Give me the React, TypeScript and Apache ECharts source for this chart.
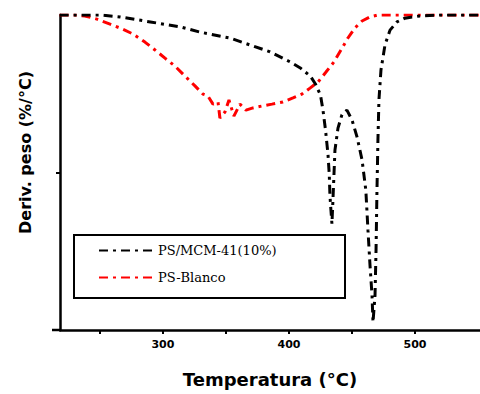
import React, { useEffect, useRef } from "react";
import * as echarts from "echarts";

// Temperature (°C) and derivative weight (%/°C, relative)
const blackT = [218, 250, 266, 290, 314, 329, 353, 369, 385, 401, 409, 417, 421, 425, 427, 429, 431, 432, 432.5, 433.3, 434.1, 434.9, 436.5, 438.9, 442, 446, 450, 454, 458, 461, 462.7, 464.3, 465.9, 466.7, 468.3, 469.1, 469.8, 470.6, 471.4, 473, 476.2, 480.2, 485.7, 492, 504, 520, 552];
const blackV = [0, 0, -0.6, -2.2, -3.8, -5.4, -7.3, -9.5, -11.7, -14.9, -16.8, -19.4, -21.9, -25.4, -30.2, -36.5, -44.4, -50.8, -57.1, -61.9, -66.3, -58.7, -42.9, -35.9, -31.7, -30.2, -33.3, -38.7, -46, -55.6, -68.3, -79.4, -88.9, -97.5, -88.9, -74.6, -56.5, -39.7, -27, -17.5, -9.5, -4.8, -2.2, -1, -0.3, 0, 0];
const redT = [218, 230, 238, 247.6, 258, 267.5, 276, 285.7, 293.7, 301.6, 309.5, 317.5, 325.4, 331.7, 335.7, 339.7, 343.7, 345.2, 349.2, 352.4, 356.3, 361.1, 365.9, 371.4, 378.6, 386.5, 395.2, 403.2, 410.3, 416.7, 423, 429.4, 435.7, 441.3, 446.8, 452.4, 458, 464.3, 470.6, 552];
const redV = [0, 0, -0.3, -1.3, -2.9, -4.4, -6, -8.6, -11.1, -13.7, -16.2, -19.4, -22.5, -25.1, -25.7, -28.3, -27.6, -32.7, -30.8, -27, -32.1, -28.3, -30.2, -29.5, -28.9, -28.3, -27.6, -26.3, -25.1, -23.2, -21.3, -18.1, -14.9, -11.1, -7.3, -4.1, -1.9, -0.6, 0, 0];

const seriesNames = ["PS/MCM-41(10%)", "PS-Blanco"];
const tickLabels = [300, 400, 500];
const tickMarks = [250, 300, 350, 400, 450, 500];
const yTicks = [-50];

export default function App() {
  const ref = useRef<HTMLDivElement>(null);
  useEffect(() => {
    const chart = echarts.init(ref.current!, null, { renderer: "svg" });
    const pair = (t: number[], v: number[]) => t.map((x, i) => [x, v[i]]);
    chart.setOption({
      animation: false,
      backgroundColor: "#fff",
      grid: { left: 60, right: 0, top: 15, bottom: 64 },
      xAxis: {
        type: "value",
        min: 218.3,
        max: 551.6,
        position: "bottom",
        name: "Temperatura (°C)",
        nameLocation: "middle",
        nameGap: 40,
        nameTextStyle: { fontFamily: "DejaVu Sans", fontWeight: "bold", fontSize: 18, color: "#000" },
        axisLine: { onZero: false, lineStyle: { color: "#000", width: 2.5 } },
        axisTick: { show: true, inside: false, length: 4, lineStyle: { color: "#000", width: 2 }, customValues: tickMarks },
        axisLabel: { customValues: tickLabels, margin: 9, fontFamily: "DejaVu Sans", fontWeight: "bold", fontSize: 11, color: "#000" },
        splitLine: { show: false },
      },
      yAxis: {
        type: "value",
        min: -100,
        max: 0,
        name: "Deriv. peso (%/°C)",
        nameLocation: "middle",
        nameRotate: 90,
        nameGap: 27,
        nameTextStyle: { fontFamily: "DejaVu Sans", fontWeight: "bold", fontSize: 16, color: "#000", padding: [0, 0, 0, 40] },
        axisLine: { show: true, onZero: false, lineStyle: { color: "#000", width: 2.5 } },
        axisTick: { show: true, length: 4, lineStyle: { color: "#000", width: 2 }, customValues: yTicks },
        axisLabel: { show: false },
        splitLine: { show: false },
      },
      legend: {
        data: seriesNames,
        orient: "vertical",
        left: 98,
        top: 244,
        itemWidth: 54,
        itemHeight: 10,
        itemGap: 14,
        padding: 0,
        itemStyle: { opacity: 0 },
        textStyle: { fontFamily: "DejaVu Serif", fontSize: 13, color: "#000" },
      },
      graphic: [
        { type: "rect", shape: { x: 74, y: 235, width: 271, height: 63 }, style: { fill: "none", stroke: "#000", lineWidth: 2 }, z: 10 },
        { type: "line", shape: { x1: 52, y1: 330, x2: 61, y2: 330 }, style: { stroke: "#000", lineWidth: 2.5 } },
      ],
      series: [
        {
          name: seriesNames[1],
          type: "line",
          data: pair(redT, redV),
          symbol: "none",
          lineStyle: { color: "#ff0000", width: 3, type: [9, 5, 3, 5] },
          itemStyle: { color: "#ff0000" },
          z: 2,
        },
        {
          name: seriesNames[0],
          type: "line",
          data: pair(blackT, blackV),
          symbol: "none",
          lineStyle: { color: "#000", width: 3, type: [9, 5, 3, 5] },
          itemStyle: { color: "#000" },
          z: 3,
        },
      ],
    });
    return () => chart.dispose();
  }, []);
  return <div ref={ref} style={{ width: 480, height: 394, position: "absolute", left: 0, top: 0 }} />;
}
